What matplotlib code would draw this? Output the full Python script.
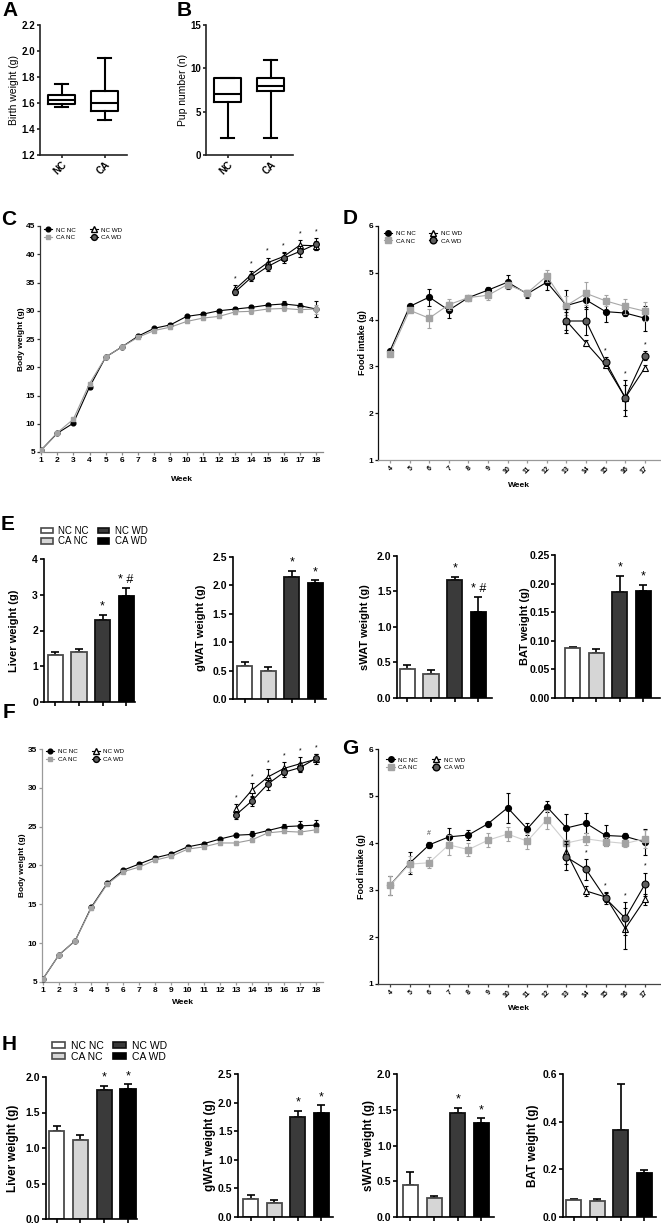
import matplotlib
matplotlib.use('Agg')
import matplotlib.pyplot as plt
import matplotlib.transforms as mtransforms
from matplotlib.lines import Line2D
from matplotlib.patches import Patch
import numpy as np

plt.rcParams['font.family'] = ['Liberation Sans', 'DejaVu Sans']

# ------------------------------------------------------------------ data
box_groups = ['NC', 'CA']
birth_whislo = [1.57, 1.47]
birth_q1 = [1.59, 1.54]
birth_med = [1.62, 1.60]
birth_q3 = [1.66, 1.69]
birth_whishi = [1.745, 1.95]
pup_whislo = [2, 2]
pup_q1 = [6.1, 7.35]
pup_med = [7.0, 8.0]
pup_q3 = [8.9, 8.9]
pup_whishi = [8.9, 11.0]

series_names = ['NC NC', 'CA NC', 'NC WD', 'CA WD']

# Panel C: body weight (weeks 1-18), WD weeks 13-18
weeks_bw = list(range(1, 19))
weeks_bw_wd = list(range(13, 19))
bw1_ncnc = [5.3, 8.3, 10.1, 16.5, 21.8, 23.6, 25.5, 26.9, 27.5, 29.0, 29.4, 30.0, 30.3, 30.6, 31.0, 31.2, 30.9, 30.3]
bw1_ncnc_err = [0.2, 0.2, 0.2, 0.3, 0.3, 0.3, 0.3, 0.3, 0.3, 0.3, 0.3, 0.3, 0.4, 0.4, 0.4, 0.5, 0.5, 1.4]
bw1_canc = [5.3, 8.4, 10.8, 17.1, 21.8, 23.6, 25.3, 26.5, 27.1, 28.1, 28.7, 29.0, 29.8, 29.9, 30.3, 30.4, 30.2, 30.3]
bw1_canc_err = [0.2, 0.2, 0.2, 0.3, 0.3, 0.3, 0.3, 0.3, 0.3, 0.3, 0.3, 0.3, 0.4, 0.4, 0.4, 0.5, 0.5, 0.8]
bw1_ncwd = [33.8, 36.4, 38.5, 39.6, 41.6, 41.5]
bw1_ncwd_err = [0.7, 0.7, 0.9, 0.8, 0.9, 0.8]
bw1_cawd = [33.3, 35.9, 37.8, 39.3, 40.5, 41.8]
bw1_cawd_err = [0.6, 0.6, 0.8, 0.9, 1.0, 1.0]
bw1_sig = ['*', '*', '*', '*', '*', '*']

# Panel D: food intake (weeks 4-17), WD weeks 13-17
weeks_fi = list(range(4, 18))
weeks_fi_wd = list(range(13, 18))
fi1_ncnc = [3.33, 4.28, 4.48, 4.20, 4.47, 4.63, 4.80, 4.55, 4.80, 4.30, 4.42, 4.17, 4.14, 4.03]
fi1_ncnc_err = [0.03, 0.03, 0.18, 0.17, 0.03, 0.07, 0.15, 0.08, 0.17, 0.33, 0.20, 0.22, 0.06, 0.27]
fi1_canc = [3.27, 4.20, 4.03, 4.32, 4.47, 4.52, 4.75, 4.57, 4.93, 4.30, 4.56, 4.40, 4.28, 4.18]
fi1_canc_err = [0.03, 0.04, 0.20, 0.12, 0.04, 0.10, 0.06, 0.07, 0.13, 0.20, 0.25, 0.12, 0.15, 0.20]
fi1_ncwd = [3.97, 3.50, 3.03, 2.33, 2.97]
fi1_ncwd_err = [0.20, 0.07, 0.05, 0.27, 0.05]
fi1_cawd = [3.97, 3.97, 3.10, 2.33, 3.23]
fi1_cawd_err = [0.25, 0.30, 0.10, 0.38, 0.10]
fi1_sig = ['', '', '*', '*', '*']

# Panel F: body weight
bw2_ncnc = [5.4, 8.5, 10.3, 14.6, 17.7, 19.4, 20.2, 21.0, 21.5, 22.4, 22.8, 23.4, 23.9, 24.0, 24.5, 25.0, 25.1, 25.2]
bw2_ncnc_err = [0.2, 0.2, 0.2, 0.2, 0.2, 0.2, 0.2, 0.2, 0.2, 0.2, 0.2, 0.2, 0.2, 0.4, 0.2, 0.3, 0.6, 0.6]
bw2_canc = [5.4, 8.5, 10.3, 14.5, 17.6, 19.2, 19.8, 20.7, 21.2, 22.1, 22.4, 22.9, 22.9, 23.3, 24.2, 24.4, 24.3, 24.6]
bw2_canc_err = [0.2, 0.2, 0.2, 0.2, 0.2, 0.2, 0.2, 0.2, 0.2, 0.2, 0.2, 0.2, 0.2, 0.3, 0.2, 0.2, 0.2, 0.3]
bw2_ncwd = [27.3, 29.7, 31.4, 32.5, 33.1, 33.7]
bw2_ncwd_err = [0.6, 0.9, 1.0, 0.8, 0.9, 0.6]
bw2_cawd = [26.5, 28.3, 30.5, 32.0, 32.6, 33.8]
bw2_cawd_err = [0.5, 0.7, 0.8, 0.6, 0.6, 0.5]
bw2_sig = ['*', '*', '*', '*', '*', '*']

# Panel G: food intake
fi2_ncnc = [3.10, 3.57, 3.96, 4.13, 4.17, 4.41, 4.75, 4.30, 4.77, 4.32, 4.42, 4.16, 4.14, 4.02]
fi2_ncnc_err = [0.20, 0.23, 0.07, 0.18, 0.10, 0.04, 0.32, 0.12, 0.12, 0.30, 0.21, 0.22, 0.07, 0.27]
fi2_canc = [3.10, 3.55, 3.58, 3.96, 3.86, 4.06, 4.19, 4.04, 4.50, 4.00, 4.09, 4.03, 3.99, 4.09]
fi2_canc_err = [0.20, 0.17, 0.12, 0.21, 0.13, 0.15, 0.14, 0.17, 0.20, 0.07, 0.13, 0.10, 0.08, 0.19]
fi2_ncwd = [3.80, 2.98, 2.85, 2.18, 2.80]
fi2_ncwd_err = [0.25, 0.10, 0.10, 0.43, 0.12]
fi2_cawd = [3.70, 3.44, 2.82, 2.40, 3.12]
fi2_cawd_err = [0.27, 0.22, 0.12, 0.35, 0.25]
fi2_sig = ['', '*', '*', '*', '*']
fi2_hash_week = 6

# Panel E: organ weights
organ_labels = ['Liver weight (g)', 'gWAT weight (g)', 'sWAT weight (g)', 'BAT weight (g)']
e_liver = [1.32, 1.40, 2.28, 2.97]
e_liver_err = [0.08, 0.08, 0.16, 0.22]
e_gwat = [0.58, 0.49, 2.15, 2.04]
e_gwat_err = [0.08, 0.07, 0.11, 0.05]
e_swat = [0.41, 0.34, 1.66, 1.21]
e_swat_err = [0.06, 0.06, 0.05, 0.21]
e_bat = [0.087, 0.078, 0.186, 0.187]
e_bat_err = [0.003, 0.008, 0.028, 0.011]
e_sig = [['', '', '*', '* #'], ['', '', '*', '*'], ['', '', '*', '* #'], ['', '', '*', '*']]
e_ylims = [(0, 4), (0, 2.5), (0, 2.0), (0, 0.25)]
e_yticks = [[0, 1, 2, 3, 4], [0.0, 0.5, 1.0, 1.5, 2.0, 2.5], [0.0, 0.5, 1.0, 1.5, 2.0],
            [0.00, 0.05, 0.10, 0.15, 0.20, 0.25]]
e_yfmt = ['{:.0f}', '{:.1f}', '{:.1f}', '{:.2f}']

# Panel H: organ weights
h_liver = [1.24, 1.11, 1.82, 1.83]
h_liver_err = [0.07, 0.07, 0.06, 0.07]
h_gwat = [0.31, 0.25, 1.75, 1.81]
h_gwat_err = [0.07, 0.04, 0.11, 0.15]
h_swat = [0.45, 0.27, 1.45, 1.31]
h_swat_err = [0.18, 0.02, 0.08, 0.07]
h_bat = [0.070, 0.066, 0.365, 0.183]
h_bat_err = [0.005, 0.008, 0.195, 0.013]
h_sig = [['', '', '*', '*'], ['', '', '*', '*'], ['', '', '*', '*'], ['', '', '', '']]
h_ylims = [(0, 2.0), (0, 2.5), (0, 2.0), (0, 0.6)]
h_yticks = [[0.0, 0.5, 1.0, 1.5, 2.0], [0.0, 0.5, 1.0, 1.5, 2.0, 2.5], [0.0, 0.5, 1.0, 1.5, 2.0],
            [0.0, 0.2, 0.4, 0.6]]
h_yfmt = ['{:.1f}', '{:.1f}', '{:.1f}', '{:.1f}']

# ------------------------------------------------------------------ figure
W, H = 661, 1225
fig = plt.figure(figsize=(W / 100, H / 100), dpi=100)


def axpx(l, t, r, b):
    return fig.add_axes([l / W, 1 - b / H, (r - l) / W, (b - t) / H])


def style(ax, lw=1.0, color='black', xcolor=None):
    for s in ['top', 'right']:
        ax.spines[s].set_visible(False)
    ax.spines['left'].set_linewidth(lw)
    ax.spines['left'].set_color(color)
    ax.spines['bottom'].set_linewidth(lw)
    ax.spines['bottom'].set_color(xcolor or color)
    ax.tick_params(axis='y', width=lw, color=color, length=2.5, pad=1)
    ax.tick_params(axis='x', width=lw, color=xcolor or color, length=2.5, pad=1)


def bold_ticks(ax):
    for t in ax.get_xticklabels() + ax.get_yticklabels():
        t.set_fontweight('bold')


def ylab(ax, text, xpx, size, weight='bold'):
    ax.set_ylabel(text, fontsize=size, fontweight=weight)
    tr = mtransforms.blended_transform_factory(fig.transFigure, ax.transAxes)
    ax.yaxis.set_label_coords(xpx / W, 0.5, transform=tr)


def xlab(ax, text, ypx, size):
    ax.set_xlabel(text, fontsize=size, fontweight='bold')
    tr = mtransforms.blended_transform_factory(ax.transAxes, fig.transFigure)
    ax.xaxis.set_label_coords(0.5, 1 - ypx / H, transform=tr)


def panel_letter(xpx, ypx, s):
    fig.text(xpx / W, 1 - ypx / H, s, fontsize=15, fontweight='bold', ha='center', va='center')


# ---- A & B box plots
def box_panel(ax, lo, q1, med, q3, hi, ylim, yticks, yfmt, label, labx):
    stats = [dict(whislo=lo[i], q1=q1[i], med=med[i], q3=q3[i], whishi=hi[i], label=box_groups[i])
             for i in range(len(box_groups))]
    lp = dict(color='black', linewidth=1.5)
    ax.bxp(stats, positions=[1, 2], widths=0.63, showfliers=False,
           boxprops=lp, whiskerprops=lp, capprops=lp, medianprops=lp)
    ax.set_xlim(0.5, 2.52)
    ax.set_ylim(*ylim)
    ax.set_yticks(yticks)
    ax.set_yticklabels([yfmt.format(v) for v in yticks], fontsize=7)
    ax.set_xticks([1, 2])
    ax.set_xticklabels(box_groups, rotation=45, ha='right', rotation_mode='anchor', fontsize=7)
    style(ax, lw=1.2, color='#222222')
    bold_ticks(ax)
    ylab(ax, label, labx, 7.5, weight='normal')


axA = axpx(40, 25, 127, 155)
box_panel(axA, birth_whislo, birth_q1, birth_med, birth_q3, birth_whishi, (1.2, 2.2),
          [1.2, 1.4, 1.6, 1.8, 2.0, 2.2], '{:.1f}', 'Birth weight (g)', 19)
axB = axpx(206, 25, 293, 155)
box_panel(axB, pup_whislo, pup_q1, pup_med, pup_q3, pup_whishi, (0, 15),
          [0, 5, 10, 15], '{:.0f}', 'Pup number (n)', 188)
panel_letter(10, 11, 'A')
panel_letter(184, 11, 'B')

# ---- line panels
GRAY_M = '#a3a3a3'
WD_FILL = '#5e5e5e'


def line_panel(ax, weeks, wdweeks, ncnc, ncnc_e, canc, canc_e, ncwd, ncwd_e, cawd, cawd_e,
               ms, gray_line, sig, star_size):
    ax.errorbar(weeks, ncnc, yerr=ncnc_e, color='black', marker='o', mfc='black', mec='black',
                ms=ms, lw=0.8, elinewidth=0.8, capsize=1.6, capthick=0.8, zorder=3)
    ax.errorbar(weeks, canc, yerr=canc_e, color=gray_line, ecolor=GRAY_M, marker='s', mfc=GRAY_M,
                mec=GRAY_M, ms=ms, lw=0.8, elinewidth=0.8, capsize=1.6, capthick=0.8, zorder=4)
    ax.errorbar(wdweeks, ncwd, yerr=ncwd_e, color='black', marker='^', mfc='white', mec='black',
                mew=0.8, ms=ms + 0.8, lw=0.8, elinewidth=0.8, capsize=1.6, capthick=0.8, zorder=5)
    ax.errorbar(wdweeks, cawd, yerr=cawd_e, color='black', marker='o', mfc=WD_FILL, mec='black',
                mew=0.8, ms=ms + 0.8, lw=0.8, elinewidth=0.8, capsize=1.6, capthick=0.8, zorder=6)
    tops = np.maximum(np.array(ncwd) + np.array(ncwd_e), np.array(cawd) + np.array(cawd_e))
    for w, t, s in zip(wdweeks, tops, sig):
        if s:
            ax.annotate(s, (w, t), xytext=(0, 2), textcoords='offset points', ha='center',
                        va='bottom', fontsize=star_size, annotation_clip=False)


def line_legend(ax, ms, bbox, fs=4.5):
    handles = [
        Line2D([], [], color='black', marker='o', mfc='black', mec='black', ms=ms, lw=0.8),
        Line2D([], [], color=GRAY_M, marker='s', mfc=GRAY_M, mec=GRAY_M, ms=ms, lw=0.8),
        Line2D([], [], color='black', marker='^', mfc='white', mec='black', ms=ms + 0.8, lw=0.8),
        Line2D([], [], color='black', marker='o', mfc=WD_FILL, mec='black', ms=ms + 0.8, lw=0.8),
    ]
    ax.legend(handles, series_names, loc='upper left', bbox_to_anchor=bbox, ncol=2, frameon=False,
              fontsize=fs, handlelength=1.3, columnspacing=2.2, labelspacing=0.35,
              borderaxespad=0, handletextpad=0.6, borderpad=0)


# C
axC = axpx(40, 226, 323, 452)
line_panel(axC, weeks_bw, weeks_bw_wd, bw1_ncnc, bw1_ncnc_err, bw1_canc, bw1_canc_err,
           bw1_ncwd, bw1_ncwd_err, bw1_cawd, bw1_cawd_err, 3.4, '#9a9a9a', bw1_sig, 5)
axC.set_xlim(0.94, 18.43)
axC.set_ylim(5, 45)
axC.set_yticks(range(5, 50, 5))
axC.set_yticklabels([str(v) for v in range(5, 50, 5)], fontsize=6)
axC.set_xticks(weeks_bw)
axC.set_xticklabels([str(w) for w in weeks_bw], fontsize=6)
style(axC, lw=0.9, color='#333333', xcolor='#888888')
bold_ticks(axC)
ylab(axC, 'Body weight (g)', 25, 6)
xlab(axC, 'Week', 476, 6)
line_legend(axC, 3.4, (0.015, 0.995))
panel_letter(9, 220, 'C')

# D
axD = axpx(378, 226, 660, 460)
line_panel(axD, weeks_fi, weeks_fi_wd, fi1_ncnc, fi1_ncnc_err, fi1_canc, fi1_canc_err,
           fi1_ncwd, fi1_ncwd_err, fi1_cawd, fi1_cawd_err, 4.2, '#a8a8a8', fi1_sig, 5)
axD.set_xlim(3.39, 17.77)
axD.set_ylim(1, 6)
axD.set_yticks(range(1, 7))
axD.set_yticklabels([str(v) for v in range(1, 7)], fontsize=6)
axD.set_xticks(weeks_fi)
axD.set_xticklabels([str(w) for w in weeks_fi], rotation=45, ha='right', rotation_mode='anchor',
                    fontsize=5)
style(axD, lw=0.9, color='#111111', xcolor='#999999')
bold_ticks(axD)
ylab(axD, 'Food intake (g)', 367, 6.5)
xlab(axD, 'Week', 482, 6)
line_legend(axD, 4.0, (0.02, 0.98))
panel_letter(350, 219, 'D')

# F
axF = axpx(42, 749, 323, 982)
line_panel(axF, weeks_bw, weeks_bw_wd, bw2_ncnc, bw2_ncnc_err, bw2_canc, bw2_canc_err,
           bw2_ncwd, bw2_ncwd_err, bw2_cawd, bw2_cawd_err, 3.4, '#9a9a9a', bw2_sig, 5)
axF.set_xlim(0.94, 18.43)
axF.set_ylim(5, 35)
axF.set_yticks(range(5, 40, 5))
axF.set_yticklabels([str(v) for v in range(5, 40, 5)], fontsize=6)
axF.set_xticks(weeks_bw)
axF.set_xticklabels([str(w) for w in weeks_bw], fontsize=6)
style(axF, lw=0.9, color='#9a9a9a')
bold_ticks(axF)
ylab(axF, 'Body weight (g)', 26, 6)
xlab(axF, 'Week', 999, 6)
line_legend(axF, 3.4, (0.015, 1.0))
panel_letter(9, 713, 'F')

# G
axG = axpx(378, 749, 660, 984)
line_panel(axG, weeks_fi, weeks_fi_wd, fi2_ncnc, fi2_ncnc_err, fi2_canc, fi2_canc_err,
           fi2_ncwd, fi2_ncwd_err, fi2_cawd, fi2_cawd_err, 4.2, '#cfcfcf', fi2_sig, 5)
hi = weeks_fi.index(fi2_hash_week)
axG.annotate('#', (fi2_hash_week, fi2_ncnc[hi] + fi2_ncnc_err[hi]), xytext=(0, 3),
             textcoords='offset points', ha='center', va='bottom', fontsize=5, color='#444444')
axG.set_xlim(3.39, 17.77)
axG.set_ylim(1, 6)
axG.set_yticks(range(1, 7))
axG.set_yticklabels([str(v) for v in range(1, 7)], fontsize=6)
axG.set_xticks(weeks_fi)
axG.set_xticklabels([str(w) for w in weeks_fi], rotation=45, ha='right', rotation_mode='anchor',
                    fontsize=5)
style(axG, lw=0.9, color='#111111', xcolor='#444444')
bold_ticks(axG)
ylab(axG, 'Food intake (g)', 366, 6.5)
xlab(axG, 'Week', 1005, 6)
line_legend(axG, 4.0, (0.03, 0.965))
panel_letter(350, 748, 'G')

# ---- bar panels
BAR_FACE = ['white', '#d6d6d6', '#3a3a3a', '#000000']
BAR_EDGE = ['#4a4a4a', '#4a4a4a', '#111111', '#000000']


def bar_panel(ax, vals, errs, sig, ylim, yticks, yfmt, xlim, label, labx, tsize, lsize):
    x = np.arange(len(vals))
    ax.bar(x, vals, width=0.64, color=BAR_FACE, edgecolor=BAR_EDGE, linewidth=1.3, zorder=2)
    ax.errorbar(x, vals, yerr=[np.zeros(len(vals)), errs], fmt='none', ecolor='black',
                elinewidth=1.2, capsize=3, capthick=1.2, zorder=1)
    for xi, v, e, s in zip(x, vals, errs, sig):
        if s:
            ax.annotate(s, (xi, v + e), xytext=(0, 3.5), textcoords='offset points', ha='center',
                        va='baseline', fontsize=9, annotation_clip=False)
    ax.set_xlim(*xlim)
    ax.set_ylim(*ylim)
    ax.set_yticks(yticks)
    ax.set_yticklabels([yfmt.format(v) for v in yticks], fontsize=tsize)
    ax.set_xticks(x)
    ax.set_xticklabels([''] * len(vals))
    style(ax, lw=1.2, color='black')
    ax.tick_params(axis='both', length=3)
    bold_ticks(ax)
    ylab(ax, label, labx, lsize)


def bar_legend(xpx, ypx, fs):
    handles = [Patch(facecolor=BAR_FACE[i], edgecolor=BAR_EDGE[i], linewidth=1.2) for i in range(4)]
    fig.legend(handles, series_names, loc='upper left', bbox_to_anchor=(xpx / W, 1 - ypx / H),
               ncol=2, frameon=False, fontsize=fs, handlelength=1.2, handleheight=0.55,
               columnspacing=0.9, labelspacing=0.05, handletextpad=0.6, borderaxespad=0, borderpad=0)


e_vals = [e_liver, e_gwat, e_swat, e_bat]
e_errs = [e_liver_err, e_gwat_err, e_swat_err, e_bat_err]
e_boxes = [(43.5, 559, 135, 702), (232.5, 557, 326, 699), (397, 556, 492, 698), (555, 555, 660, 698)]
e_xlims = [(-0.51, 3.38), (-0.51, 3.45), (-0.43, 3.57), (-0.74, 3.7)]
e_labx = [19, 206, 370, 530]
for i in range(4):
    ax = axpx(*e_boxes[i])
    bar_panel(ax, e_vals[i], e_errs[i], e_sig[i], e_ylims[i], e_yticks[i], e_yfmt[i], e_xlims[i],
              organ_labels[i], e_labx[i], 7.5, 8)
bar_legend(41, 526, 7)
panel_letter(8, 525, 'E')

h_vals = [h_liver, h_gwat, h_swat, h_bat]
h_errs = [h_liver_err, h_gwat_err, h_swat_err, h_bat_err]
h_boxes = [(45.6, 1077, 137, 1219), (238, 1074, 333, 1217), (397, 1074, 494, 1217), (563, 1074, 656, 1217)]
h_xlims = [(-0.46, 3.38), (-0.55, 3.49), (-0.57, 3.53), (-0.45, 3.49)]
h_labx = [19, 216, 375, 539]
for i in range(4):
    ax = axpx(*h_boxes[i])
    bar_panel(ax, h_vals[i], h_errs[i], h_sig[i], h_ylims[i], h_yticks[i], h_yfmt[i], h_xlims[i],
              organ_labels[i], h_labx[i], 7.5, 8.5)
bar_legend(52, 1041, 7.5)
panel_letter(9, 1045, 'H')

fig.savefig('out.png', dpi=100)
